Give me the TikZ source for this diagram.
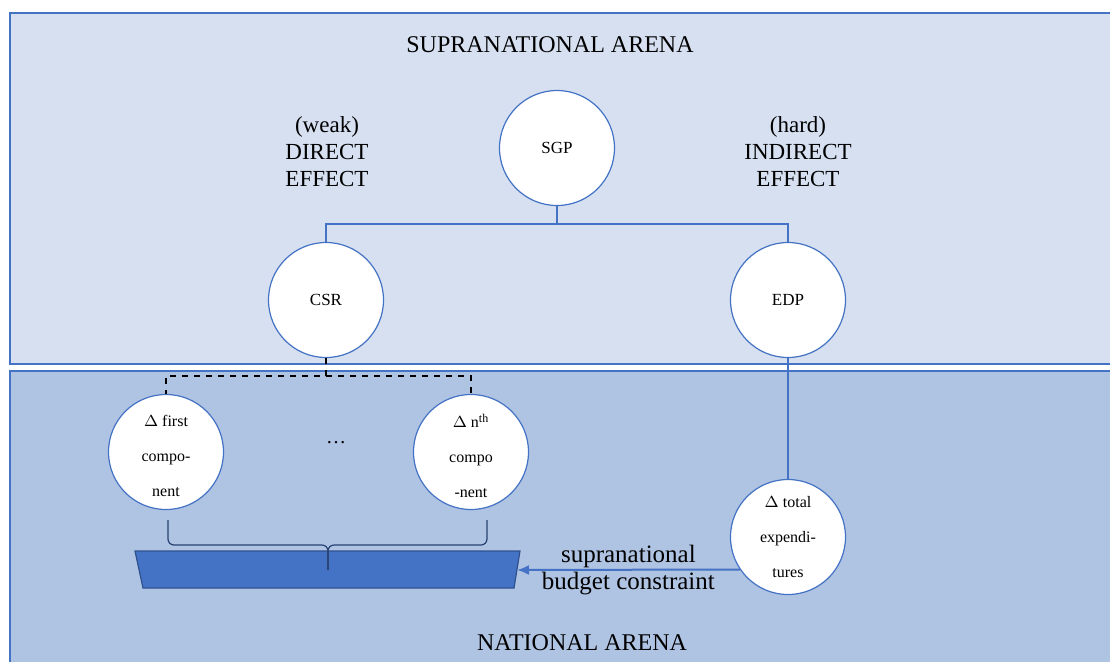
\documentclass[tikz,border=0pt]{standalone}
\usepackage{fontspec}
\setmainfont{Liberation Serif}
\usetikzlibrary{positioning, arrows.meta}
\definecolor{edgeblue}{RGB}{68,114,196}
\definecolor{topfill}{RGB}{214,224,241}
\definecolor{lowfill}{RGB}{175,195,227}
\definecolor{boxline}{RGB}{47,82,143}
\begin{document}
\begin{tikzpicture}[x=0.5pt,y=-0.5pt,
    arena/.style={draw=edgeblue, line width=0.6pt},
    unit/.style={circle, draw=edgeblue, fill=white, line width=0.6pt, minimum size=57.5pt, inner sep=0pt, font=\fontsize{8.5}{10}\selectfont},
    delta/.style={unit, align=center, font=\fontsize{8}{17.5}\selectfont},
    deltatext/.style={align=center, font=\fontsize{8}{17.5}\selectfont, yshift=-2pt},
    effect/.style={align=center, font=\fontsize{11.5}{13.5}\selectfont},
    link/.style={draw=edgeblue, line width=0.6pt}]
      \useasboundingbox (0,0) rectangle (1110,661);
      % the two arenas
      \fill[topfill] (10,13) rectangle (1112,364);
      \draw[arena] (1112,13) -- (10,13) -- (10,364) -- (1112,364);
      \fill[lowfill] (10,371) rectangle (1112,664);
      \draw[arena] (1112,371) -- (10,371) -- (10,664);
      \node[effect, font=\fontsize{12}{13}\selectfont] (supra) at (550,45) {SUPRANATIONAL ARENA};
      \node[effect, font=\fontsize{12}{13}\selectfont] (natio) at (582,643) {NATIONAL ARENA};

      % supranational level
      \node[unit] (sgp) at (557,148) {SGP};
      \node[unit] (csr) at (326,300) {CSR};
      \node[unit] (edp) at (788,300) {EDP};
      \node[effect] (weak) at (327,152) {(weak)\\DIRECT\\EFFECT};
      \node[effect] (hard) at (798,152) {(hard)\\INDIRECT\\EFFECT};
      \coordinate (split) at (557,224);
      \draw[link] (sgp) -- (split) -| (csr);
      \draw[link] (split) -| (edp);

      % national level
      \node[unit, label={[deltatext]center:$\Delta$ first\\compo-\\nent}] (first) at (166,452) {};
      \node[unit, label={[deltatext]center:$\Delta$ n\textsuperscript{th}\\compo\\-nent}] (nth) at (471,452) {};
      \node (dots) at (336,443) {\dots};
      \node[delta] (total) at (788,537) {$\Delta$ total\\expendi-\\tures};
      \coordinate (csrsplit) at (326,376);
      \draw[dashed, line width=0.6pt] (csr) -- (csrsplit) -| (first);
      \draw[dashed, line width=0.6pt] (csrsplit) -| (nth);
      \draw[link] (edp) -- (total);

      % budget box and brace
      \filldraw[fill=edgeblue, draw=boxline, line width=0.6pt]
        (135,551) -- (520,551) -- (514,588) -- (143,588) -- cycle;
      \coordinate (budget) at (517,570);
      \coordinate (bracel) at (168,520);
      \coordinate (bracer) at (487,520);
      \coordinate (bracetip) at (328,570);
      \draw[draw=boxline!80!black, line width=0.6pt, rounded corners=3pt]
        (bracel) -- (168,545) -- (328,545) -- (bracetip);
      \draw[draw=boxline!80!black, line width=0.6pt, rounded corners=3pt]
        (bracer) -- (487,545) -- (328,545) -- (bracetip);
      \draw[link, line width=1pt, -{Latex[length=6pt,width=5pt]}] (total.214) -- (budget)
        node[midway, align=center, font=\fontsize{12.5}{13.5}\selectfont] {supranational\\budget constraint};
    \end{tikzpicture}
\end{document}
